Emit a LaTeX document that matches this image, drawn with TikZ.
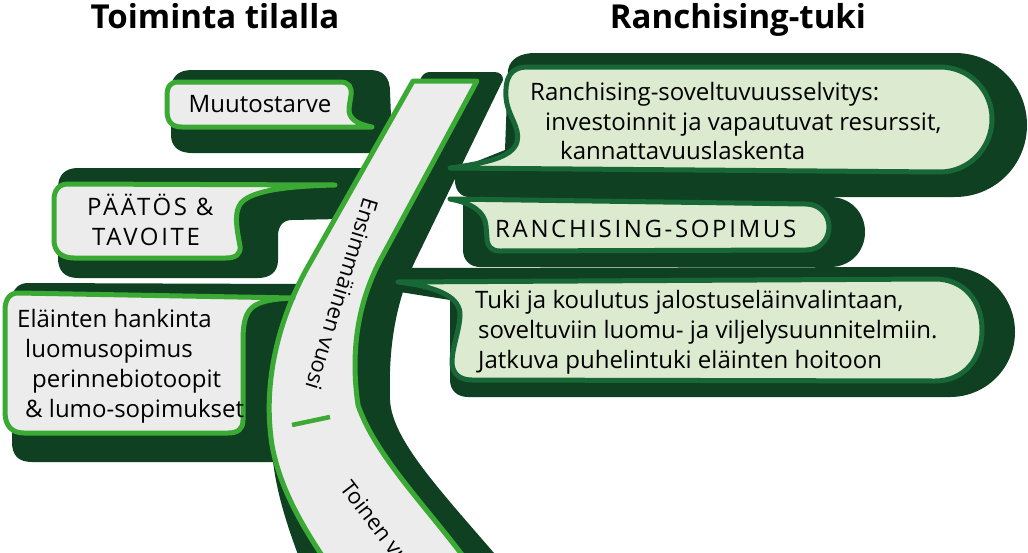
\documentclass[tikz,border=0pt]{standalone}
\usepackage{fontspec}
\setmainfont{Open Sans}
\newfontfamily\capsfont[LetterSpace=11]{Open Sans}
\definecolor{dk}{RGB}{16,64,34}
\definecolor{bgreen}{RGB}{58,170,53}
\definecolor{mgreen}{RGB}{24,104,55}
\definecolor{lgreen}{RGB}{220,234,208}
\definecolor{lgray}{RGB}{236,236,236}
\tikzset{
  shad/.style={fill=dk},
  lbox/.style={fill=lgray,draw=bgreen,line width=5pt,line join=round},
  rbox/.style={fill=lgreen,draw=mgreen,line width=5pt,line join=round},
  txt/.style={font=\fontsize{24}{29}\selectfont,inner sep=0pt,anchor=base west},
  ctxt/.style={font=\capsfont\fontsize{24}{29}\selectfont,inner sep=0pt,anchor=base west},
  ttl/.style={font=\fontsize{33}{40}\selectfont\bfseries,inner sep=0pt,anchor=base},
  btxt/.style={font=\fontsize{22}{26}\selectfont,inner sep=0pt}
}
\begin{document}
\begin{tikzpicture}[x=1pt,y=-1pt]
\useasboundingbox (0,0) rectangle (1028,552);
\clip (0,0) rectangle (1028,552);
% band shadow
\path[shad] (430,72) -- (494,72) .. controls (500,72) and (503,75) .. (503,80) -- (418,255) .. controls (398,295) and (388,340) .. (390,400) .. controls (392,440) and (440,490) .. (500,560) -- (300,560) .. controls (285,520) and (268,470) .. (272,420) -- (315,272) -- (420,80) .. controls (422,75) and (425,72) .. (430,72) -- cycle;
% box shadows
\path[shad] (192,70) -- (370,70) .. controls (383,70) and (390,77) .. (390,92) -- (392,140) -- (372,153) -- (192,153) .. controls (178,153) and (171,146) .. (171,135) -- (171,90) .. controls (171,77) and (178,70) .. (192,70) -- cycle;
\path[shad] (78,168) -- (365,168) -- (365,205) .. controls (362,215) and (352,219) .. (340,219) -- (292,220) .. controls (283,220) and (278,226) .. (278,236) -- (278,260) .. controls (278,272) and (270,278) .. (258,278) -- (78,278) .. controls (64,278) and (58,270) .. (58,258) -- (58,188) .. controls (58,175) and (65,168) .. (78,168) -- cycle;
\path[shad] (28,283) -- (300,284) -- (300,440) .. controls (300,455) and (290,462) .. (275,462) -- (32,462) .. controls (18,462) and (12,455) .. (12,442) -- (12,300) .. controls (12,290) and (18,283) .. (28,283) -- cycle;
\path[shad] (535,53) -- (955,53) .. controls (995,53) and (1027,85) .. (1027,125) .. controls (1027,165) and (995,197) .. (955,197) -- (470,197) .. controls (460,197) and (455,190) .. (455,180) -- (455,170) -- (505,150) -- (508,70) .. controls (510,59) and (520,53) .. (535,53) -- cycle;
\path[shad] (470,195) -- (830,197) .. controls (850,197) and (865,212) .. (865,232) .. controls (865,252) and (850,267) .. (830,267) -- (480,267) .. controls (470,267) and (463,260) .. (463,250) -- (463,205) .. controls (463,199) and (466,195) .. (470,195) -- cycle;
\path[shad] (400,268) -- (950,267) .. controls (986,267) and (1015,296) .. (1015,332) .. controls (1015,368) and (986,397) .. (950,397) -- (468,397) .. controls (457,397) and (450,390) .. (450,380) -- (450,300) -- (400,292) -- cycle;
% band
\draw[lbox] (413,81) -- (477,81) -- (383,255) .. controls (358,300) and (350,350) .. (358,405) .. controls (375,455) and (425,505) .. (466,560) -- (325,560) .. controls (305,530) and (280,490) .. (272,445) .. controls (262,380) and (280,318) .. (306,270) -- cycle;
\coordinate (tk1) at (292,425);
\coordinate (tk2) at (330,417);
\draw[bgreen,line width=4.5pt] (tk1) -- (tk2);
\node[btxt,rotate=-107] (yr1) at (342,294) {Ensimmäinen vuosi};
\node[btxt,rotate=-52.5,anchor=base west] (yr2) at (339,488) {Toinen vuosi};
% left boxes
\draw[lbox] (178,82) -- (340,82) .. controls (349,82) and (352,87) .. (351,95) -- (349,108) .. controls (348,118) and (356,124) .. (372,127) -- (182,127) .. controls (171,127) and (167,121) .. (167,110) -- (167,96) .. controls (167,87) and (170,82) .. (178,82) -- cycle;
\draw[lbox] (68,184) -- (335,185) .. controls (290,186) and (252,190) .. (241,203) .. controls (235,211) and (236,222) .. (238,235) -- (240,246) .. controls (241,254) and (236,258) .. (226,258) -- (74,258) .. controls (61,258) and (54,251) .. (54,240) -- (54,200) .. controls (54,190) and (59,184) .. (68,184) -- cycle;
\draw[lbox] (18,293) -- (293,298) .. controls (270,299) and (255,302) .. (249,311) .. controls (243,320) and (243,332) .. (243,345) -- (243,420) .. controls (243,429) and (238,433) .. (228,433) -- (24,433) .. controls (12,433) and (5,426) .. (5,412) -- (5,310) .. controls (5,299) and (10,293) .. (18,293) -- cycle;
% right boxes
\draw[rbox] (450,168) .. controls (485,163) and (512,158) .. (517,142) .. controls (521,128) and (507,115) .. (506,97) .. controls (505,78) and (510,67) .. (528,67) -- (940,67) .. controls (969,67) and (992,90) .. (992,119) .. controls (992,148) and (969,172) .. (940,172) -- cycle;
\draw[rbox] (450,199) -- (806,204) .. controls (819,204) and (829,214) .. (829,227) .. controls (829,240) and (819,250) .. (806,250) -- (500,251) .. controls (491,251) and (487,246) .. (487,238) -- (486,226) .. controls (485,212) and (472,203) .. (450,199) -- cycle;
\draw[rbox] (398,282) -- (935,279) .. controls (964,279) and (982,301) .. (982,330) .. controls (982,359) and (964,381) .. (935,381) -- (472,380) .. controls (459,380) and (452,373) .. (452,362) .. controls (452,348) and (459,332) .. (460,316) .. controls (461,298) and (440,287) .. (398,282) -- cycle;
% titles
\node[ttl] (h1) at (215,28) {Toiminta tilalla};
\node[ttl] (h2) at (738,28) {Ranchising-tuki};
% texts
\node[txt,anchor=base] (a1) at (260,112) {Muutostarve};
\node[ctxt] (b1) at (87,215) {PÄÄTÖS \&};
\node[ctxt] (b2) at (92,245) {TAVOITE};
\node[txt] (c1) at (17,327) {Eläinten hankinta};
\node[txt] (c2) at (25,357) {luomusopimus};
\node[txt] (c3) at (32,387) {perinnebiotoopit};
\node[txt] (c4) at (25,417) {\& lumo-sopimukset};
\node[txt] (d1) at (530,100) {Ranchising-soveltuvuusselvitys:};
\node[txt] (d2) at (545,130) {investoinnit ja vapautuvat resurssit,};
\node[txt] (d3) at (560,159) {kannattavuuslaskenta};
\node[ctxt] (e1) at (495,237) {RANCHISING-SOPIMUS};
\node[txt] (f1) at (475,308) {Tuki ja koulutus jalostuseläinvalintaan,};
\node[txt] (f2) at (478,338) {soveltuviin luomu- ja viljelysuunnitelmiin.};
\node[txt] (f3) at (478,368) {Jatkuva puhelintuki eläinten hoitoon};
\end{tikzpicture}
\end{document}
